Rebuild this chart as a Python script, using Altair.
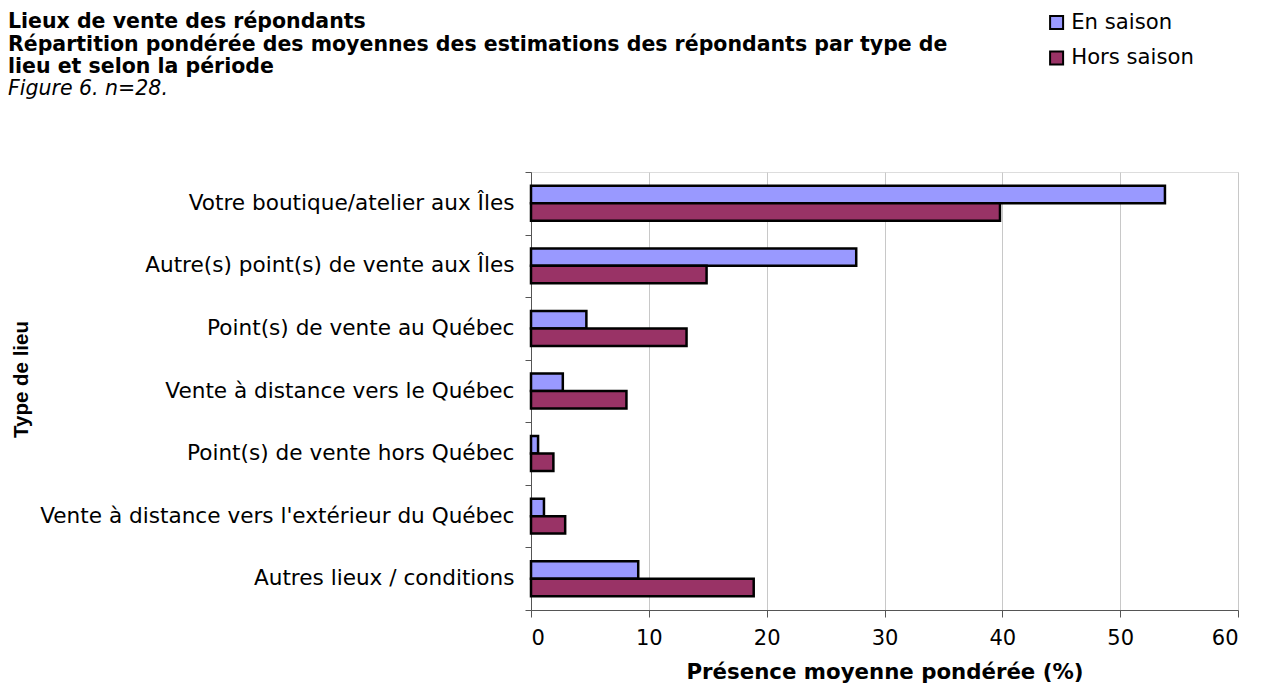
import altair as alt
import pandas as pd

categories = [
    "Votre boutique/atelier aux Îles",
    "Autre(s) point(s) de vente aux Îles",
    "Point(s) de vente au Québec",
    "Vente à distance vers le Québec",
    "Point(s) de vente hors Québec",
    "Vente à distance vers l'extérieur du Québec",
    "Autres lieux / conditions",
]
series = ["En saison", "Hors saison"]
en_saison = [53.8, 27.6, 4.7, 2.7, 0.6, 1.1, 9.1]
hors_saison = [39.8, 14.9, 13.2, 8.1, 1.9, 2.9, 18.9]
x_ticks = [0, 10, 20, 30, 40, 50, 60]
colors = ["#9999FF", "#993366"]

rows = []
for c, e, h in zip(categories, en_saison, hors_saison):
    rows.append({"lieu": c, "saison": series[0], "valeur": e})
    rows.append({"lieu": c, "saison": series[1], "valeur": h})
df = pd.DataFrame(rows)

title = alt.TitleParams(
    text=[
        "Lieux de vente des répondants",
        "Répartition pondérée des moyennes des estimations des répondants par type de",
        "lieu et selon la période",
    ],
    subtitle="Figure 6. n=28.",
    anchor="start",
    frame="group",
    font="DejaVu Sans",
    fontSize=20.5,
    fontWeight="bold",
    lineHeight=22.3,
    color="black",
    subtitleFont="DejaVu Sans",
    subtitleFontSize=20.5,
    subtitleFontStyle="italic",
    subtitleFontWeight="normal",
    subtitleColor="black",
    subtitleLineHeight=22.3,
    subtitlePadding=1,
    dx=-523,
    dy=87,
    offset=0,
)

chart = (
    alt.Chart(df)
    .mark_bar(stroke="black", strokeWidth=2.5)
    .encode(
        x=alt.X(
            "valeur:Q",
            scale=alt.Scale(domain=[0, 60], nice=False),
            axis=alt.Axis(
                values=x_ticks,
                title="Présence moyenne pondérée (%)",
                titleFont="DejaVu Sans",
                titleFontSize=21.3,
                titleFontWeight="bold",
                titleColor="black",
                titleBaseline="top",
                titleY=51,
                labelFont="DejaVu Sans",
                labelFontSize=21,
                labelColor="black",
                labelPadding=10,
                tickSize=7,
                tickColor="#555555",
                domainColor="#555555",
                gridColor="#c8c8c8",
                gridWidth=1,
            ),
        ),
        y=alt.Y(
            "lieu:N",
            sort=categories,
            scale=alt.Scale(paddingInner=0, paddingOuter=0),
            axis=alt.Axis(
                title="Type de lieu",
                titleFont="Liberation Sans",
                titleFontSize=20.5,
                titleFontWeight="bold",
                titleColor="black",
                titleX=-510,
                titleY=207,
                titleBaseline="middle",
                tickBand="extent",
                tickSize=6,
                tickColor="#555555",
                domainColor="#555555",
                labelFont="DejaVu Sans",
                labelFontSize=21.6,
                labelColor="black",
                labelPadding=11,
                labelLimit=700,
                grid=False,
            ),
        ),
        yOffset=alt.YOffset(
            "saison:N",
            sort=series,
            scale=alt.Scale(paddingInner=0, paddingOuter=0.79),
        ),
        color=alt.Color(
            "saison:N",
            sort=series,
            scale=alt.Scale(domain=series, range=colors),
            legend=alt.Legend(
                title=None,
                orient="none",
                legendX=515,
                legendY=-160,
                symbolType="square",
                symbolSize=169,
                symbolStrokeColor="black",
                symbolStrokeWidth=2,
                symbolOpacity=1,
                labelFont="DejaVu Sans",
                labelFontSize=21.2,
                labelColor="black",
                labelOffset=4,
                rowPadding=12.5,
                padding=0,
            ),
        ),
    )
    .properties(
        width=707,
        height=438,
        title=title,
        autosize=alt.AutoSizeParams(type="none"),
        padding={"left": 523, "top": 164, "right": 15, "bottom": 76},
    )
    .configure_view(strokeWidth=0)
    .configure(font="DejaVu Sans")
)

chart.save("out.html", embed_options={"renderer": "svg", "actions": False})
